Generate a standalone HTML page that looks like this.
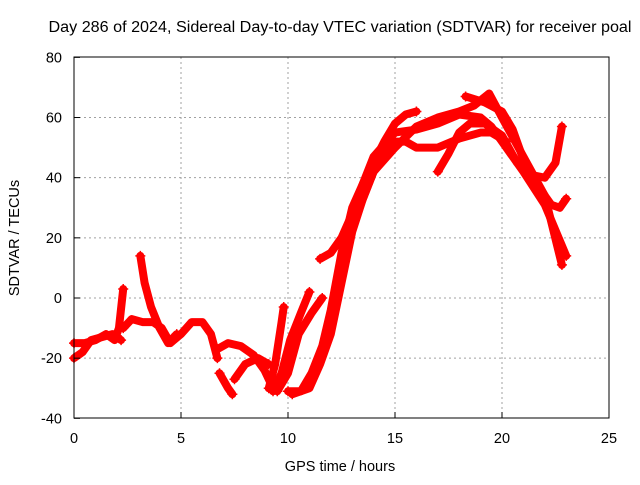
<!DOCTYPE html>
<html><head><meta charset="utf-8"><style>
body{margin:0;background:#fff}
svg text{font-family:"Liberation Sans",sans-serif;font-size:14.5px;fill:#000}
</style></head><body>
<svg id="chart" width="640" height="480" xmlns="http://www.w3.org/2000/svg">
<rect width="640" height="480" fill="#fff"/>
<text x="340" y="32" text-anchor="middle" textLength="583" lengthAdjust="spacingAndGlyphs" style="font-size:15.5px">Day 286 of 2024, Sidereal Day-to-day VTEC variation (SDTVAR) for receiver poal</text>
<g id="grid"></g>
<g id="series"></g>
<rect x="74" y="57" width="535" height="361" fill="none" stroke="#000" stroke-width="1"/>
<g id="axes"></g>
<text x="340" y="471" text-anchor="middle">GPS time / hours</text>
<text transform="translate(19,238) rotate(-90)" text-anchor="middle">SDTVAR / TECUs</text>
</svg>
<script>
const xTicks=[0,5,10,15,20,25];
const yTicks=[-40,-20,0,20,40,60,80];
const track1=[[0,-15],[0.5,-15],[1,-14],[1.5,-12],[1.9,-14],[2.1,-10],[2.3,3]];
const track2=[[0,-20],[0.4,-18],[0.8,-14],[1.3,-13],[1.8,-12],[2.2,-14]];
const track3=[[2.3,-10],[2.7,-7],[3.2,-8],[3.7,-8],[4.1,-10],[4.5,-15],[5,-12],[5.5,-8],[6,-8],[6.4,-12],[6.7,-20]];
const track4=[[3.1,14],[3.3,5],[3.6,-3],[4,-10],[4.4,-15],[4.8,-12]];
const track5=[[6.7,-17],[7.2,-15],[7.8,-16],[8.4,-19],[8.9,-24],[9.3,-30]];
const track6=[[6.8,-25],[7.2,-30],[7.4,-32]];
const track7=[[7.5,-27],[8,-22],[8.6,-20],[9.1,-22]];
const track8=[[9.1,-30],[9.4,-22],[9.7,-8],[9.8,-3]];
const track9=[[9.3,-31],[9.7,-25],[10.1,-14],[10.6,-5],[11,2]];
const track10=[[9.5,-31],[10,-25],[10.5,-12],[11.1,-5],[11.6,0]];
const track11=[[10,-31],[10.6,-31],[11.1,-25],[11.6,-16],[12,-4],[12.5,15],[13,30],[13.5,38],[14,45],[14.5,52],[15,58],[15.5,61],[16,62]];
const track12=[[10.2,-32],[11,-30],[11.5,-22],[12,-12],[12.5,5],[13,22],[13.5,33],[14,42],[14.5,48],[15,52],[15.5,52],[16,50],[17,50],[18,53],[19,55],[19.5,55],[20.2,52]];
const track13=[[11.5,13],[12,15],[12.5,20],[13,28],[13.5,38],[14,47],[15,55],[16,56],[17,58],[18,61],[19,60],[19.5,57],[20,52],[21,42],[22,31],[23,14]];
const track14=[[13,25],[13.5,33],[14,42],[15,50],[16,57],[17,60],[18,62],[18.7,64],[19.4,68],[20,60],[21,47],[22,34],[22.8,11]];
const track15=[[17,42],[17.5,48],[18,55],[18.5,58],[19.2,58],[20,54],[20.7,45],[21.3,41],[22,40],[22.5,45],[22.8,57]];
const track16=[[18.3,67],[19.2,65],[20,62],[20.5,56],[21,46],[21.7,37],[22.3,31],[22.7,30],[23,33]];
const tracks=[track1,track2,track3,track4,track5,track6,track7,track8,track9,track10,track11,track12,track13,track14,track15,track16];
const X=v=>74+v*21.4, Y=v=>298-v*3.008;
const ns="http://www.w3.org/2000/svg";
const grid=document.getElementById('grid'),axes=document.getElementById('axes'),ser=document.getElementById('series');
xTicks.forEach(t=>{
 if(t>0&&t<25){const l=document.createElementNS(ns,'line');
 
 
 l.setAttribute('x1',X(t));l.setAttribute('x2',X(t));l.setAttribute('y1',57);l.setAttribute('y2',418);
 l.setAttribute('stroke','#a0a0a0');l.setAttribute('stroke-dasharray','2,3');grid.appendChild(l);}
 const tx=document.createElementNS(ns,'text');
 
 
 tx.setAttribute('x',X(t));tx.setAttribute('y',443);tx.setAttribute('text-anchor','middle');tx.textContent=t;axes.appendChild(tx);
 const tk=document.createElementNS(ns,'line');
 
 
 tk.setAttribute('x1',X(t));tk.setAttribute('x2',X(t));tk.setAttribute('y1',418);tk.setAttribute('y2',412);tk.setAttribute('stroke','#000');axes.appendChild(tk);
});
yTicks.forEach(t=>{
 if(t>-40&&t<80){const l=document.createElementNS(ns,'line');
 
 
 l.setAttribute('x1',74);l.setAttribute('x2',609);l.setAttribute('y1',Y(t));l.setAttribute('y2',Y(t));
 l.setAttribute('stroke','#a0a0a0');l.setAttribute('stroke-dasharray','2,3');grid.appendChild(l);}
 const tx=document.createElementNS(ns,'text');
 
 
 tx.setAttribute('x',62);tx.setAttribute('y',Y(t)+5);tx.setAttribute('text-anchor','end');tx.textContent=t;axes.appendChild(tx);
 const tk=document.createElementNS(ns,'line');
 
 
 tk.setAttribute('x1',74);tk.setAttribute('x2',80);tk.setAttribute('y1',Y(t));tk.setAttribute('y2',Y(t));tk.setAttribute('stroke','#000');axes.appendChild(tk);
});
tracks.forEach((tr,i)=>{
 const p=document.createElementNS(ns,'polyline');
 
 
 p.setAttribute('points',tr.map(d=>X(d[0])+','+Y(d[1])).join(' '));
 p.setAttribute('fill','none');p.setAttribute('stroke','#ff0000');p.setAttribute('stroke-width','8');
 p.setAttribute('stroke-linejoin','round');p.setAttribute('stroke-linecap','round');
 ser.appendChild(p);
 [tr[0],tr[tr.length-1]].forEach(d=>{
  const m=document.createElementNS(ns,'path');
  
  
  const x=X(d[0]),y=Y(d[1]);
  m.setAttribute('d',`M${x-5},${y}H${x+5}M${x},${y-5}V${y+5}`);
  m.setAttribute('stroke','#ff0000');m.setAttribute('stroke-width','1.5');ser.appendChild(m);
 });
});
</script>
</body></html>
